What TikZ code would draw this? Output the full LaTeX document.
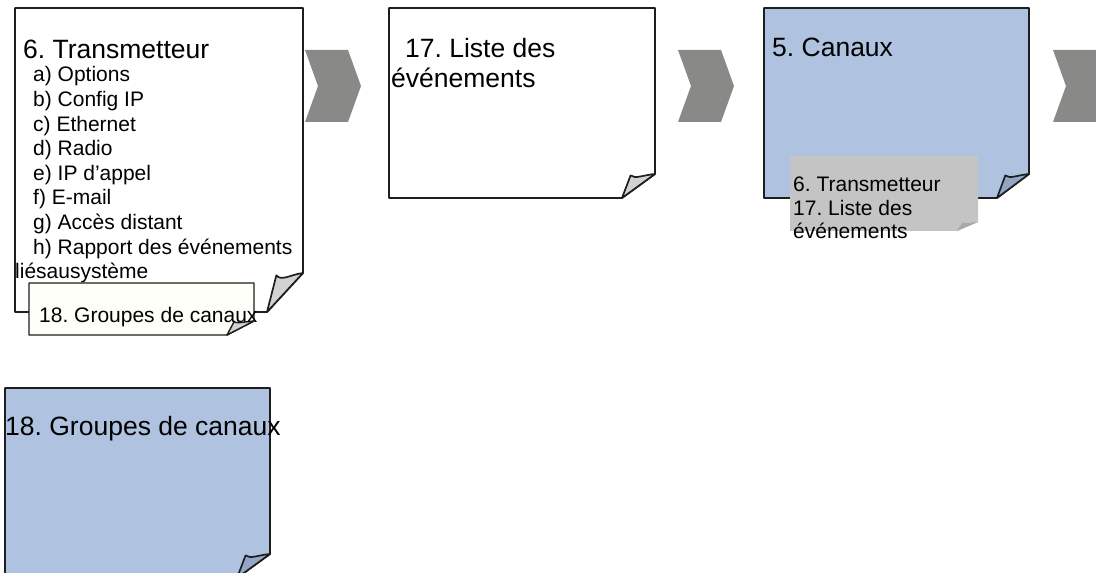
\documentclass[tikz,border=0pt]{standalone}
\usepackage{fontspec}
\setmainfont{Liberation Sans}
\usetikzlibrary{positioning}
\frenchspacing

\definecolor{notefill}{HTML}{AFC3E0}
\definecolor{curlblue}{HTML}{93A6C6}
\definecolor{curlgrey}{HTML}{D2D2D2}
\definecolor{chevgrey}{HTML}{898A88}
\definecolor{tagfill}{HTML}{C4C4C4}
\definecolor{tagcurl}{HTML}{A9A9A9}
\definecolor{edge}{HTML}{1E1E1E}

% sheet with a curled bottom right corner:
% #1 sheet style, #2 curl style, #3 left, #4 top, #5 right, #6 bottom, #7/#8 curl size
\newcommand{\foldpage}[8]{%
  \path[#1] (#3,#4) -- (#5,#4) -- (#5,#6-#8) -- (#5-#7,#6) -- (#3,#6) -- cycle;
  \path[#1, #2] (#5-#7,#6) -- (#5-0.74*#7,#6-0.94*#8)
    .. controls (#5-0.6*#7,#6-0.78*#8) and (#5-0.35*#7,#6-0.96*#8) .. (#5,#6-#8) -- cycle;
}

\begin{document}
\begin{tikzpicture}[x=1bp, y=-1bp,
		sheet/.style={draw=edge, line width=1.7bp, line join=round, fill=white},
		bluesheet/.style={sheet, fill=notefill},
		tag/.style={fill=tagfill},
		curl/.style={fill=curlgrey},
		bluecurl/.style={fill=curlblue},
		tagcurlfill/.style={fill=tagcurl},
		chevron/.style={fill=chevgrey},
		heading/.style={anchor=base west, inner sep=0pt, font=\fontsize{26.5bp}{30bp}\selectfont},
		entry/.style={anchor=base west, inner sep=0pt, font=\fontsize{21bp}{24bp}\selectfont}
	]
		\useasboundingbox[fill=white] (0,0) rectangle (1096,573);

		% transmitter sheet
		\foldpage{sheet}{curl}{15}{8}{303}{312}{36}{39}
		\node[heading] (trans) at (23,59) {6. Transmetteur};
		\node[entry] (opt) at (33,82) {a) Options};
		\node[entry] (cfg) at (33,106.6) {b) Config IP};
		\node[entry] (eth) at (33,131.2) {c) Ethernet};
		\node[entry] (rad) at (33,155.8) {d) Radio};
		\node[entry] (ipa) at (33,180.4) {e) IP d’appel};
		\node[entry] (mail) at (33,205) {f) E-mail};
		\node[entry] (dist) at (33,229.6) {g) Accès distant};
		\node[entry] (rap) at (33,254.2) {h) Rapport des événements};
		\node[entry] (sys) at (15,279) {liésausystème};
		\foldpage{sheet, fill=white!98!yellow, line width=1.4bp}{curl}{29}{283}{254}{335}{27}{14}
		\node[entry] (grpa) at (39,323) {18. Groupes de canaux};

		% arrows between the sheets
		\foreach \cx in {305,678,1053}
			\path[chevron] (\cx,50) -- (\cx+43,50) -- (\cx+56,86) -- (\cx+43,122) -- (\cx,122) -- (\cx+13,86) -- cycle;

		% event list
		\foldpage{sheet}{curl}{389}{8}{655}{198}{33}{24}
		\node[heading] (lst) at (405,58) {17. Liste des};
		\node[heading] (evt) at (391,88) {événements};

		% channels
		\foldpage{bluesheet}{bluecurl}{764}{8}{1029}{198}{32}{24}
		\node[heading] (can) at (772,57) {5. Canaux};
		\foldpage{tag}{tagcurlfill}{790}{156}{978}{231}{21}{9}
		\node[entry] (tra) at (793,192) {6. Transmetteur};
		\node[entry] (lsb) at (793,215.5) {17. Liste des};
		\node[entry] (evb) at (793,239) {événements};

		% channel groups
		\begin{scope}
			\clip (0,0) rectangle (1096,573);
			\foldpage{bluesheet}{bluecurl}{5}{388}{270}{578}{33}{24}
		\end{scope}
		\node[heading] (grp) at (5,435) {18. Groupes de canaux};
	\end{tikzpicture}
\end{document}
